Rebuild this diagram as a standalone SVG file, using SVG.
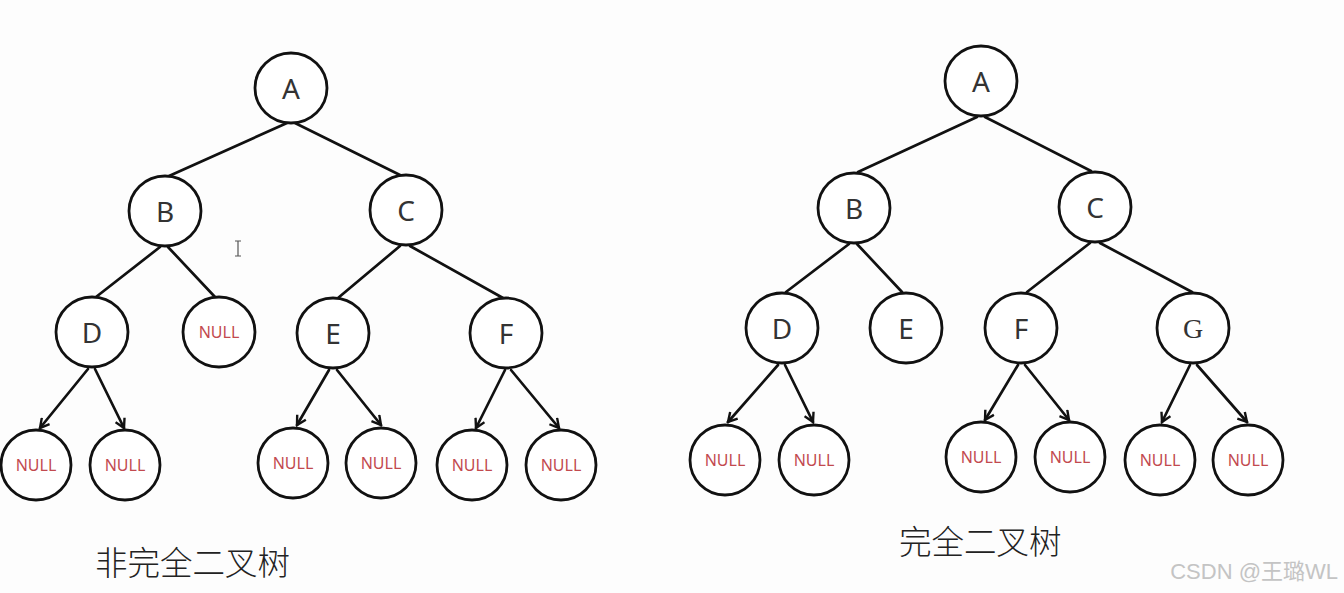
<svg xmlns="http://www.w3.org/2000/svg" width="1344" height="593" viewBox="0 0 1344 593">
<style>
.n{fill:#fff;stroke:#111;stroke-width:2.8}
.lbl{font-family:"Noto Sans","Liberation Sans",sans-serif;font-size:28px;fill:#333;text-anchor:middle;dominant-baseline:central}
.nul{font-family:"Noto Sans","Liberation Sans",sans-serif;font-size:16px;fill:#c24a4f;text-anchor:middle;dominant-baseline:central}
.e{stroke:#111;stroke-width:2.7;fill:none;stroke-linecap:round}
.a{marker-end:url(#ah)}
.cap{font-family:"Noto Sans CJK SC",sans-serif;font-size:32.5px;fill:#222;font-weight:300}
</style>
<defs>
<marker id="ah" viewBox="0 0 12 12" refX="10" refY="6" markerWidth="12" markerHeight="12" markerUnits="userSpaceOnUse" orient="auto">
<polyline points="1,1 10,6 1,11" fill="none" stroke="#111" stroke-width="2.4" stroke-linejoin="miter"/>
</marker>
</defs>
<rect width="1344" height="593" fill="#fdfdfd"/>
<g id="connectors">
<line class="e" x1="287" y1="123" x2="169" y2="176"/>
<line class="e" x1="295" y1="123" x2="402" y2="176"/>
<line class="e" x1="160" y1="247" x2="96" y2="297"/>
<line class="e" x1="168" y1="247" x2="215" y2="297"/>
<line class="e" x1="400" y1="246" x2="338" y2="298"/>
<line class="e" x1="410" y1="246" x2="503" y2="298"/>
<line class="e a" x1="88" y1="369" x2="40" y2="428"/>
<line class="e a" x1="95" y1="369" x2="124" y2="428"/>
<line class="e a" x1="329" y1="370" x2="297" y2="425"/>
<line class="e a" x1="337" y1="370" x2="381" y2="425"/>
<line class="e a" x1="505" y1="370" x2="476" y2="428"/>
<line class="e a" x1="511" y1="370" x2="559" y2="428"/>
<line class="e" x1="977" y1="117" x2="858" y2="172"/>
<line class="e" x1="985" y1="117" x2="1091" y2="171"/>
<line class="e" x1="849" y1="244" x2="786" y2="292"/>
<line class="e" x1="857" y1="244" x2="902" y2="292"/>
<line class="e" x1="1090" y1="243" x2="1027" y2="292"/>
<line class="e" x1="1100" y1="243" x2="1192" y2="292"/>
<line class="e a" x1="778" y1="365" x2="728" y2="422"/>
<line class="e a" x1="785" y1="365" x2="813" y2="422"/>
<line class="e a" x1="1018" y1="365" x2="985" y2="420"/>
<line class="e a" x1="1025" y1="365" x2="1069" y2="420"/>
<line class="e a" x1="1190" y1="365" x2="1162" y2="422"/>
<line class="e a" x1="1197" y1="365" x2="1247" y2="422"/>
</g>
<g id="L_A"><ellipse class="n" cx="291" cy="88" rx="36" ry="35"/><text class="lbl" x="291" y="88">A</text></g>
<g id="L_B"><ellipse class="n" cx="165" cy="211" rx="36" ry="35"/><text class="lbl" x="165" y="211">B</text></g>
<g id="L_C"><ellipse class="n" cx="406" cy="210" rx="36" ry="35"/><text class="lbl" x="406" y="210">C</text></g>
<g id="L_D"><ellipse class="n" cx="92" cy="332" rx="36" ry="35"/><text class="lbl" x="92" y="332">D</text></g>
<g id="L_Bnull"><ellipse class="n" cx="219" cy="332" rx="36" ry="35"/><text class="nul" x="219" y="332">NULL</text></g>
<g id="L_E"><ellipse class="n" cx="333" cy="333" rx="36" ry="35"/><text class="lbl" x="333" y="333">E</text></g>
<g id="L_F"><ellipse class="n" cx="506" cy="333" rx="36" ry="35"/><text class="lbl" x="506" y="333">F</text></g>
<g id="L_n1"><ellipse class="n" cx="36" cy="465" rx="35" ry="35"/><text class="nul" x="36" y="465">NULL</text></g>
<g id="L_n2"><ellipse class="n" cx="125" cy="465" rx="35" ry="35"/><text class="nul" x="125" y="465">NULL</text></g>
<g id="L_n3"><ellipse class="n" cx="293" cy="463" rx="35" ry="35"/><text class="nul" x="293" y="463">NULL</text></g>
<g id="L_n4"><ellipse class="n" cx="381" cy="463" rx="35" ry="35"/><text class="nul" x="381" y="463">NULL</text></g>
<g id="L_n5"><ellipse class="n" cx="472" cy="465" rx="35" ry="35"/><text class="nul" x="472" y="465">NULL</text></g>
<g id="L_n6"><ellipse class="n" cx="561" cy="465" rx="35" ry="35"/><text class="nul" x="561" y="465">NULL</text></g>
<g id="R_A"><ellipse class="n" cx="981" cy="81" rx="36" ry="35"/><text class="lbl" x="981" y="81">A</text></g>
<g id="R_B"><ellipse class="n" cx="854" cy="208" rx="36" ry="35"/><text class="lbl" x="854" y="208">B</text></g>
<g id="R_C"><ellipse class="n" cx="1095" cy="207" rx="36" ry="35"/><text class="lbl" x="1095" y="207">C</text></g>
<g id="R_D"><ellipse class="n" cx="782" cy="328" rx="36" ry="35"/><text class="lbl" x="782" y="328">D</text></g>
<g id="R_E"><ellipse class="n" cx="906" cy="328" rx="36" ry="35"/><text class="lbl" x="906" y="328">E</text></g>
<g id="R_F"><ellipse class="n" cx="1021" cy="328" rx="36" ry="35"/><text class="lbl" x="1021" y="328">F</text></g>
<g id="R_G"><ellipse class="n" cx="1193" cy="328" rx="36" ry="35"/><text class="lbl" x="1193" y="328" style="font-family:'Liberation Serif',serif">G</text></g>
<g id="R_n1"><ellipse class="n" cx="725" cy="460" rx="35" ry="35"/><text class="nul" x="725" y="460">NULL</text></g>
<g id="R_n2"><ellipse class="n" cx="814" cy="460" rx="35" ry="35"/><text class="nul" x="814" y="460">NULL</text></g>
<g id="R_n3"><ellipse class="n" cx="981" cy="457" rx="35" ry="35"/><text class="nul" x="981" y="457">NULL</text></g>
<g id="R_n4"><ellipse class="n" cx="1070" cy="457" rx="35" ry="35"/><text class="nul" x="1070" y="457">NULL</text></g>
<g id="R_n5"><ellipse class="n" cx="1160" cy="460" rx="35" ry="35"/><text class="nul" x="1160" y="460">NULL</text></g>
<g id="R_n6"><ellipse class="n" cx="1248" cy="460" rx="35" ry="35"/><text class="nul" x="1248" y="460">NULL</text></g>
<path d="M235,241 h6 M238,241 v15 M235,256 h6" stroke="#555" stroke-width="1.2" fill="none"/>
<text class="cap" x="95" y="575">非完全二叉树</text>
<text class="cap" x="899" y="554">完全二叉树</text>
<text x="1338" y="579" text-anchor="end" style="font-family:'Liberation Sans','Noto Sans CJK SC',sans-serif;font-size:22px;fill:#c4c4c4">CSDN @王璐WL</text>
</svg>
